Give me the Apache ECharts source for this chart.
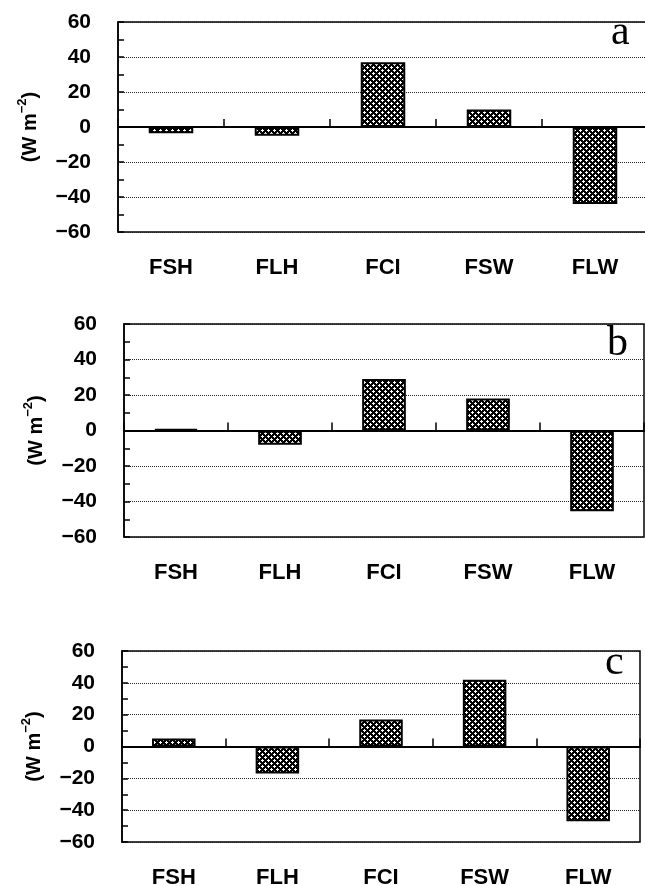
<!DOCTYPE html>
<html>
<head>
    <meta charset="utf-8">
    <title>FSH FLH FCI FSW FLW</title>
    <script src="https://cdn.jsdelivr.net/npm/echarts@6/dist/echarts.min.js"></script>
    <style>
        body { margin: 0; background: #fff; }
        #main { width: 645px; height: 886px; }
    </style>
</head>
<body>
    <div id="main"></div>
    <script type="text/javascript">
        // 数据
        var categories = ['FSH', 'FLH', 'FCI', 'FSW', 'FLW'];
        var valuesA = [-3.5, -5, 37, 10, -44];
        var valuesB = [0.8, -8, 29, 18, -45.5];
        var valuesC = [5, -17, 17, 42, -47];
        var panelLetters = ['a', 'b', 'c'];
        var yMin = -60, yMax = 60, yStep = 20;

        // 网格位置 (每个小图)
        var grids = [
            { left: 118, top: 22, width: 530, height: 210 },
            { left: 124, top: 324, width: 520, height: 213 },
            { left: 122, top: 651, width: 518, height: 191 }
        ];
        var letterPos = [
            { left: 611, top: 12 },
            { left: 607, top: 323 },
            { left: 605, top: 642 }
        ];

        // 网纹填充
        function makePattern() {
            var c = document.createElement('canvas');
            c.width = 6; c.height = 6;
            var ctx = c.getContext('2d');
            ctx.fillStyle = '#000';
            ctx.fillRect(0, 0, 6, 6);
            ctx.fillStyle = '#fff';
            [[1, 1], [4, 4]].forEach(function (p) {
                ctx.fillRect(p[0], p[1] - 1, 1, 3);
                ctx.fillRect(p[0] - 1, p[1], 3, 1);
            });
            return c;
        }
        var pattern = { image: makePattern(), repeat: 'repeat' };

        var font = 'Liberation Sans';
        var allValues = [valuesA, valuesB, valuesC];

        var option = {
            animation: false,
            backgroundColor: '#fff',
            title: [],
            grid: [],
            xAxis: [],
            yAxis: [],
            series: []
        };

        allValues.forEach(function (vals, i) {
            var g = grids[i];
            option.grid.push({
                left: g.left, top: g.top, width: g.width, height: g.height,
                show: true, borderColor: '#000', borderWidth: 1.5,
                outerBoundsMode: 'none'
            });
            option.title.push({
                text: panelLetters[i],
                left: letterPos[i].left, top: letterPos[i].top, padding: 0,
                textStyle: { fontFamily: 'Liberation Serif', fontSize: 42, fontWeight: 'normal', color: '#000' }
            });
            // 底部标签轴
            option.xAxis.push({
                gridIndex: i, type: 'category', data: categories, position: 'bottom',
                axisLine: { show: false, onZero: false },
                axisTick: { show: false },
                splitLine: { show: false },
                axisLabel: { margin: 25, fontSize: 22, fontWeight: 'bold', color: '#000', fontFamily: font }
            });
            // 零线 + 分隔刻度
            option.xAxis.push({
                gridIndex: i, type: 'category', data: categories, position: 'top',
                axisLine: { show: true, onZero: true, lineStyle: { color: '#000', width: 2 } },
                axisTick: { show: true, inside: false, length: 8, lineStyle: { color: '#000', width: 1.5 } },
                axisLabel: { show: false },
                splitLine: { show: false }
            });
            option.yAxis.push({
                gridIndex: i, type: 'value', min: yMin, max: yMax, interval: yStep,
                axisLine: { show: true, lineStyle: { color: '#000', width: 1.5 } },
                axisTick: { show: true, inside: true, length: 6, lineStyle: { color: '#000', width: 1.5 } },
                minorTick: { show: true, splitNumber: 2, length: 6, lineStyle: { color: '#000', width: 1.5 } },
                splitLine: { show: true, lineStyle: { type: 'dotted', color: '#222', width: 1 } },
                axisLabel: {
                    margin: 27, fontSize: 21, fontWeight: 'bold', color: '#000', fontFamily: font,
                    formatter: function (v) { return String(v).replace('-', '\u2212'); }
                },
                name: '{n|(W m}{sup|\u22122}{n|)}',
                nameLocation: 'middle', nameRotate: 90, nameGap: 78,
                nameTextStyle: {
                    fontSize: 20, fontWeight: 'bold', color: '#000', fontFamily: font,
                    rich: {
                        n: { fontSize: 20, fontWeight: 'bold', color: '#000', fontFamily: font, lineHeight: 24, verticalAlign: 'bottom' },
                        sup: { fontSize: 13, fontWeight: 'bold', color: '#000', fontFamily: font, lineHeight: 14, verticalAlign: 'top' }
                    }
                }
            });
            option.series.push({
                type: 'bar', xAxisIndex: i * 2, yAxisIndex: i,
                data: vals, barWidth: '42%',
                itemStyle: { color: pattern, borderColor: '#000', borderWidth: 2 },
                emphasis: { disabled: true }
            });
        });

        var myChart = echarts.init(document.getElementById('main'));
        myChart.setOption(option);
    </script>
</body>
</html>
